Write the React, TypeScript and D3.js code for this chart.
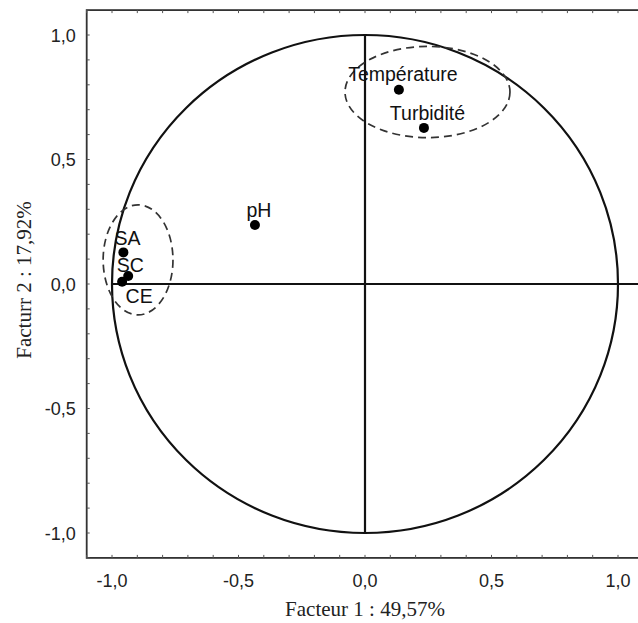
import React from "react";
import * as d3 from "d3";

const variables = ["Température", "Turbidité", "pH", "SA", "SC", "CE"];
const factor1 = [0.134, 0.233, -0.435, -0.955, -0.936, -0.96];
const factor2 = [0.78, 0.627, 0.237, 0.127, 0.032, 0.009];

const tickValues = [-1.0, -0.5, 0.0, 0.5, 1.0];
const tickLabels = ["-1,0", "-0,5", "0,0", "0,5", "1,0"];

const groupNames = ["cluster", "top"];
const groupCx = [-0.897, 0.247];
const groupCy = [0.097, 0.771];
const groupRx = [0.138, 0.326];
const groupRy = [0.221, 0.183];

const xTitle = "Facteur 1 : 49,57%";
const yTitle = "Facturr 2 : 17,92%";

// label offsets in px (dx of label center, dy of baseline) relative to point
const labelOffsets: Record<string, [number, number]> = {
  "Température": [4, -9],
  "Turbidité": [3.5, -8],
  pH: [4, -8],
  SA: [4, -7],
  SC: [2, -4],
  CE: [17, 21],
};

export default function App() {
  const W = 638;
  const H = 623;
  const x = d3.scaleLinear().domain([-1.1, 1.1]).range([86.7, 643.3]);
  const y = d3.scaleLinear().domain([-1.1, 1.1]).range([557.9, 10.1]);
  const minor = d3.range(-11, 12).map((i) => i / 10);
  const sans = "'Liberation Sans', Arial, sans-serif";
  const serif = "'Liberation Serif', 'Times New Roman', serif";

  return (
    <svg
      width={W}
      height={H}
      style={{ position: "absolute", left: 0, top: 0, background: "#fff" }}
    >
      {/* frame */}
      <rect
        x={x(-1.1)}
        y={y(1.1)}
        width={x(1.1) - x(-1.1)}
        height={y(-1.1) - y(1.1)}
        fill="none"
        stroke="#333"
        strokeWidth={1.8}
      />
      {/* ticks */}
      {minor.map((v, i) => (
        <g key={i} stroke="#555" strokeWidth={1}>
          <line x1={x(v)} x2={x(v)} y1={y(-1.1)} y2={y(-1.1) - 3} />
          <line x1={x(v)} x2={x(v)} y1={y(1.1)} y2={y(1.1) + 3} />
          <line x1={x(-1.1)} x2={x(-1.1) + 3} y1={y(v)} y2={y(v)} />
        </g>
      ))}
      {/* tick labels */}
      {tickValues.map((v, i) => (
        <text
          key={"yl" + i}
          x={x(-1.1) - 11}
          y={y(v) + 6.5}
          textAnchor="end"
          fontFamily={sans}
          fontSize={18}
          fill="#222"
        >
          {tickLabels[i]}
        </text>
      ))}
      {tickValues.map((v, i) => (
        <text
          key={"xl" + i}
          x={x(v)}
          y={587}
          textAnchor="middle"
          fontFamily={sans}
          fontSize={18}
          fill="#222"
        >
          {tickLabels[i]}
        </text>
      ))}
      {/* titles */}
      <text
        x={x(0)}
        y={616}
        textAnchor="middle"
        fontFamily={serif}
        fontSize={21}
        fill="#222"
      >
        {xTitle}
      </text>
      <text
        transform={`translate(31,${y(0) - 4}) rotate(-90)`}
        textAnchor="middle"
        fontFamily={serif}
        fontSize={21}
        fill="#222"
      >
        {yTitle}
      </text>
      {/* unit circle */}
      <ellipse
        cx={x(0)}
        cy={y(0)}
        rx={x(1) - x(0)}
        ry={y(0) - y(1)}
        fill="none"
        stroke="#111"
        strokeWidth={2.2}
      />
      {/* axes through origin */}
      <line x1={x(0)} x2={x(0)} y1={y(1)} y2={y(-1)} stroke="#111" strokeWidth={2.2} />
      <line x1={x(-1)} x2={x(1.1)} y1={y(0)} y2={y(0)} stroke="#111" strokeWidth={2.2} />
      {/* group ellipses */}
      {groupNames.map((g, i) => (
        <ellipse
          key={g}
          cx={x(groupCx[i])}
          cy={y(groupCy[i])}
          rx={x(groupRx[i]) - x(0)}
          ry={y(0) - y(groupRy[i])}
          fill="none"
          stroke="#333"
          strokeWidth={1.7}
          strokeDasharray="8,5"
        />
      ))}
      {/* points */}
      {variables.map((v, i) => (
        <circle key={"p" + v} cx={x(factor1[i])} cy={y(factor2[i])} r={5} fill="#000" />
      ))}
      {variables.map((v, i) => {
        const [dx, dy] = labelOffsets[v] || [0, -8];
        return (
          <text
            key={"t" + v}
            x={x(factor1[i]) + dx}
            y={y(factor2[i]) + dy}
            textAnchor="middle"
            fontFamily={sans}
            fontSize={19.5}
            fill="#111"
          >
            {v}
          </text>
        );
      })}
    </svg>
  );
}
